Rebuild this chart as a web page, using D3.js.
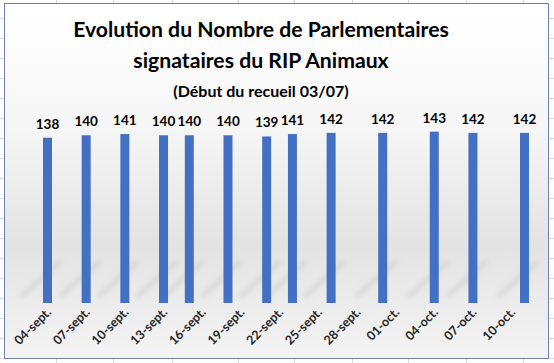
<!DOCTYPE html>
<html>
<head>
<meta charset="utf-8">
<script src="https://cdn.jsdelivr.net/npm/d3@7"></script>
<style>
  body { margin: 0; background: #fff; }
  svg { display: block; }
</style>
</head>
<body>
<svg id="chart" width="554" height="363"></svg>
<script>
// data
const dates = ["2019-09-04", "2019-09-07", "2019-09-10", "2019-09-13", "2019-09-15",
    "2019-09-18", "2019-09-21", "2019-09-23", "2019-09-26", "2019-09-30",
    "2019-10-04", "2019-10-07", "2019-10-11"];
const values = [138, 140, 141, 140, 140, 140, 139, 141, 142, 142, 143, 142, 142];
const tickDates = ["2019-09-04", "2019-09-07", "2019-09-10", "2019-09-13", "2019-09-16",
    "2019-09-19", "2019-09-22", "2019-09-25", "2019-09-28", "2019-10-01",
    "2019-10-04", "2019-10-07", "2019-10-10"];
const titleLines = ["Evolution du Nombre de Parlementaires", "signataires du RIP Animaux"];
const subtitle = "(Début du recueil 03/07)";

const parse = d3.timeParse("%Y-%m-%d");
const fr = d3.timeFormatLocale({
    dateTime: "%A %e %B %Y à %X", date: "%d/%m/%Y", time: "%H:%M:%S",
    periods: ["AM", "PM"],
    days: ["dimanche", "lundi", "mardi", "mercredi", "jeudi", "vendredi", "samedi"],
    shortDays: ["dim.", "lun.", "mar.", "mer.", "jeu.", "ven.", "sam."],
    months: ["janvier", "février", "mars", "avril", "mai", "juin", "juillet", "août", "septembre", "octobre", "novembre", "décembre"],
    shortMonths: ["janv.", "févr.", "mars", "avr.", "mai", "juin", "juil.", "août", "sept.", "oct.", "nov.", "déc."]
});
const fmt = fr.format("%d-%b");

const data = dates.map((d, i) => ({date: parse(d), value: values[i]}));

const svg = d3.select("#chart");
const font = "Lato, 'Open Sans', sans-serif";

// spreadsheet cells behind the chart
const grid = svg.append("g").attr("stroke", "#d9d9d9").attr("stroke-width", 1);
d3.range(18, 363, 20).forEach(y => {
    grid.append("line").attr("x1", 0).attr("x2", 554).attr("y1", y + 0.5).attr("y2", y + 0.5);
});
[56, 113, 172, 238, 294, 352, 408, 466, 523].forEach(x => {
    grid.append("line").attr("x1", x + 0.5).attr("x2", x + 0.5).attr("y1", 0).attr("y2", 363);
});

// chart area background
const defs = svg.append("defs");
const bg = defs.append("linearGradient").attr("id", "bg").attr("x1", 0).attr("x2", 0).attr("y1", 0).attr("y2", 1);
bg.append("stop").attr("offset", "0%").attr("stop-color", "#ffffff");
bg.append("stop").attr("offset", "35%").attr("stop-color", "#f6f6f6");
bg.append("stop").attr("offset", "68%").attr("stop-color", "#e3e3e3");
bg.append("stop").attr("offset", "100%").attr("stop-color", "#f4f4f4");

defs.append("filter").attr("id", "blur")
    .append("feGaussianBlur").attr("stdDeviation", 2.5);

svg.append("rect")
    .attr("x", 4.5).attr("y", 3.5).attr("width", 544).attr("height", 355)
    .attr("fill", "url(#bg)").attr("stroke", "#7080b0").attr("stroke-width", 1);

const x = d3.scaleTime()
    .domain([parse("2019-09-04"), parse("2019-10-11")])
    .range([47.5, 524.5]);
const y = d3.scaleLinear().domain([0, 160]).range([303, 111.3]);
const barW = 9;

// soft diagonal reflections under the bars
svg.append("g").attr("filter", "url(#blur)").selectAll("path")
    .data(data)
    .join("path")
    .attr("d", d => {
        const cx = x(d.date);
        return `M${cx + 10},${y(0) - 42} L${cx + 17},${y(0) - 42} L${cx - 23},${y(0) - 6} L${cx - 30},${y(0) - 6} Z`;
    })
    .attr("fill", "#b8b8b8")
    .attr("opacity", 0.35);

// bars
svg.append("g").selectAll("rect")
    .data(data)
    .join("rect")
    .attr("x", d => x(d.date) - barW / 2)
    .attr("y", d => y(d.value))
    .attr("width", barW)
    .attr("height", d => y(0) - y(d.value))
    .attr("fill", "#4370c2");

// value labels
svg.append("g").selectAll("text")
    .data(data)
    .join("text")
    .attr("x", d => x(d.date))
    .attr("y", d => y(d.value) - 9)
    .attr("text-anchor", "middle")
    .attr("font-family", font)
    .attr("font-weight", "bold")
    .attr("font-size", 13.5)
    .attr("fill", "#000")
    .text(d => d.value);

// x axis labels
const xAxis = d3.axisBottom(x)
    .tickValues(tickDates.map(parse))
    .tickFormat(fmt)
    .tickSize(0);
const gx = svg.append("g").attr("transform", "translate(0,303)").call(xAxis);
gx.select(".domain").remove();
gx.selectAll("text")
    .attr("font-family", font)
    .attr("font-weight", "bold")
    .attr("font-size", 12.5)
    .attr("fill", "#262626")
    .attr("text-anchor", "end")
    .attr("dy", 0)
    .attr("y", 0)
    .attr("transform", "translate(4,10) rotate(-45)");

// titles
svg.append("g").selectAll("text")
    .data(titleLines)
    .join("text")
    .attr("x", 261)
    .attr("y", (d, i) => 37 + i * 31)
    .attr("text-anchor", "middle")
    .attr("font-family", font)
    .attr("font-weight", "bold")
    .attr("font-size", 21.2)
    .attr("fill", "#000")
    .text(d => d);

svg.append("text")
    .attr("x", 261)
    .attr("y", 97)
    .attr("text-anchor", "middle")
    .attr("font-family", font)
    .attr("font-weight", "bold")
    .attr("font-size", 16)
    .attr("fill", "#000")
    .text(subtitle);
</script>
</body>
</html>
